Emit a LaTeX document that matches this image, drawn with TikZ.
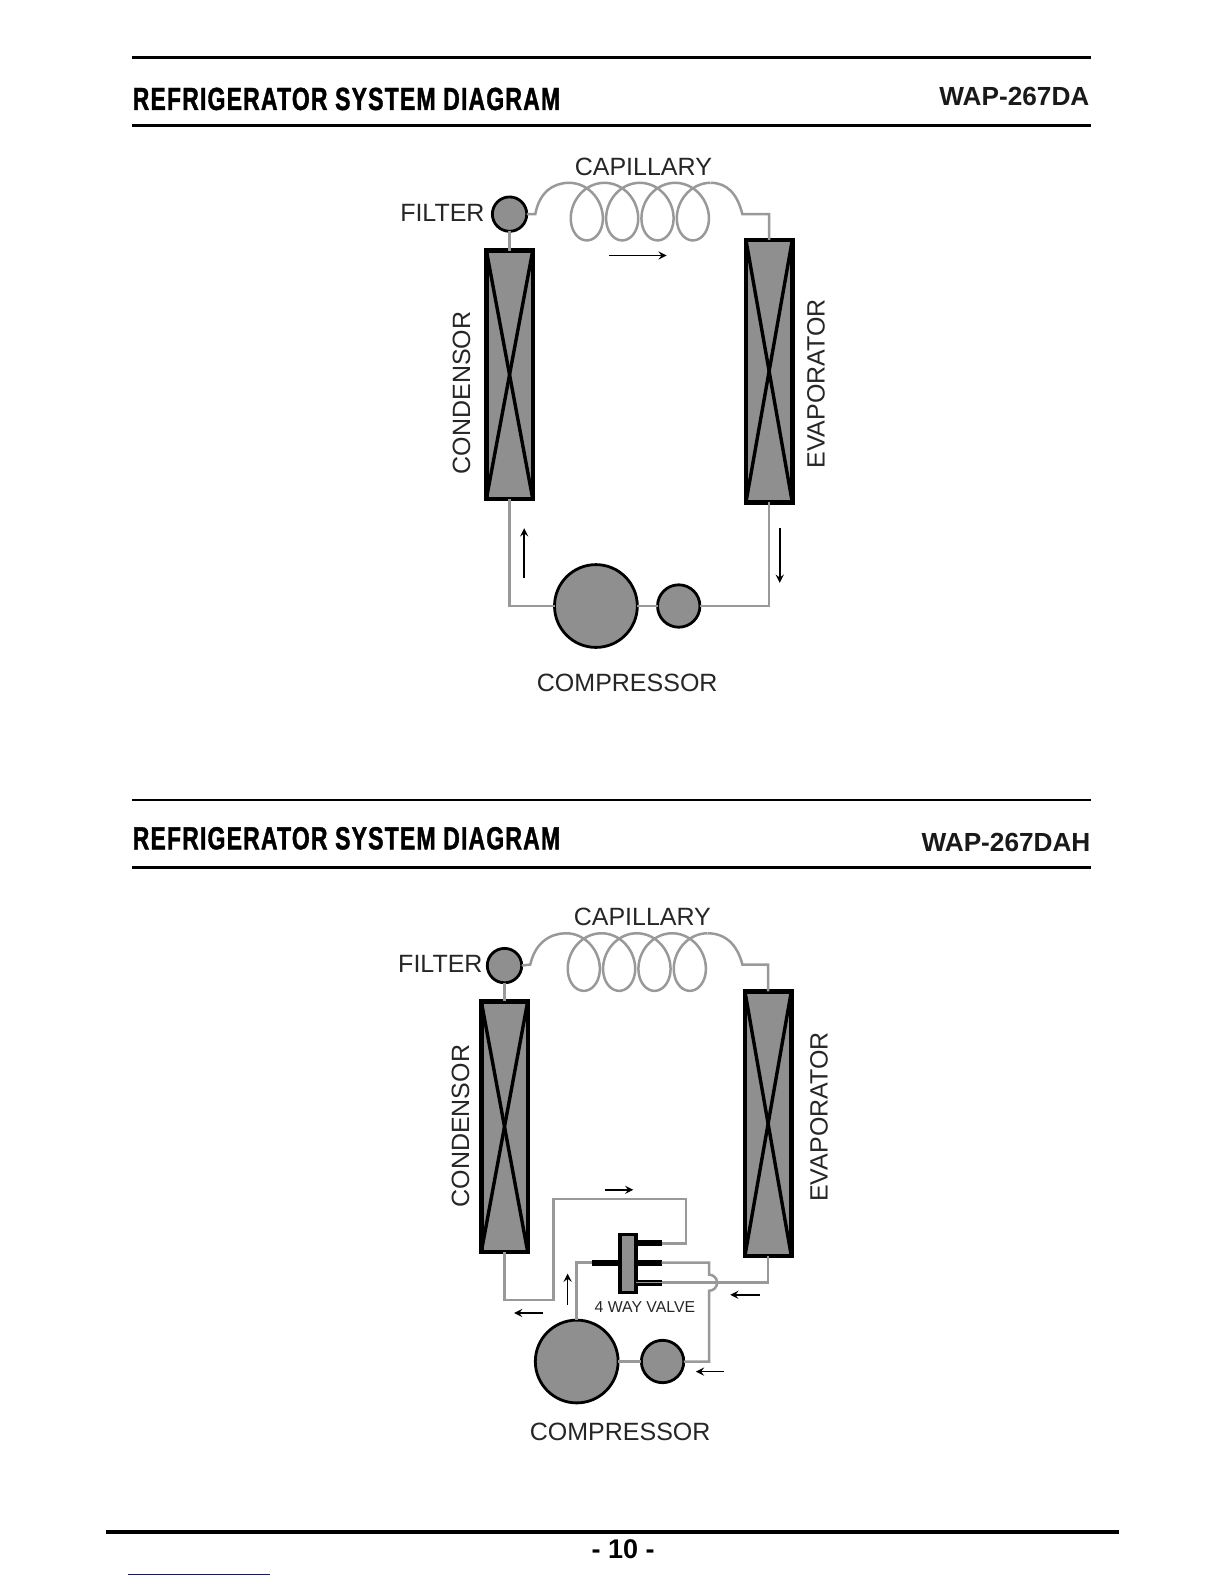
\documentclass[tikz,border=0pt]{standalone}
\usepackage{fontspec}
\setmainfont{Liberation Sans}
\newfontfamily\titlefont[FakeStretch=0.72,LetterSpace=3.6,FakeBold=1.2]{Liberation Sans}
\definecolor{fillgray}{gray}{0.56}
\definecolor{pipegray}{gray}{0.6}
\definecolor{linkblue}{RGB}{20,20,150}
\tikzset{
  pipe/.style={draw=pipegray, line width=1.25pt},
  flow/.style={->, >=stealth, line width=0.8pt},
  coilbox/.style={draw, line width=2.2pt, fill=fillgray, minimum width=23.2pt, inner sep=0pt, outer sep=0pt},
  crossline/.style={line width=1.7pt},
  ball/.style={circle, draw, line width=1.4pt, fill=fillgray, inner sep=0pt, outer sep=0pt},
  parttext/.style={inner sep=0pt, text=black!85, font=\fontsize{12.5}{15}\selectfont},
  headtext/.style={inner sep=0pt, font=\titlefont\bfseries\fontsize{16}{20}\selectfont},
  modeltext/.style={inner sep=0pt, text=black!90, font=\bfseries\fontsize{13.1}{15}\selectfont}
}
\begin{document}
\begin{tikzpicture}[x=0.505pt,y=-0.505pt]
\useasboundingbox (0,0) rectangle (1211.9,1568.3);

% first system
\draw [line width=1.2pt] (131,57)--(1080,57);
\draw [line width=1.5pt] (131,124)--(1080,124);
\node [headtext, anchor=west] (headA) at (131,98) {REFRIGERATOR SYSTEM DIAGRAM};
\node [modeltext, anchor=east] (modelA) at (1079,96) {WAP-267DA};

\node [coilbox, minimum height=124.2pt] (condA) at (504.5,371) {};
\node [coilbox, minimum height=131.3pt] (evapA) at (761.5,367.5) {};
\node [ball, minimum size=17.2pt] (filterA) at (504.5,212) {};
\node [ball, minimum size=41.4pt] (compA) at (590,600) {};
\node [ball, minimum size=21.2pt] (accA) at (672,600) {};
\coordinate (coilinA) at (563.5,181);
\coordinate (coiloutA) at (703.5,181);
\coordinate (bendA) at (735,212);

\draw [crossline] (condA.north west)--(condA.south east);
\draw [crossline] (condA.north east)--(condA.south west);
\draw [crossline] (evapA.north west)--(evapA.south east);
\draw [crossline] (evapA.north east)--(evapA.south west);

\draw [pipe] (filterA.south)--(condA.north);
\draw [pipe] (filterA.east)--(530,212) .. controls (534,190) and (548,181) .. (coilinA);
\draw [pipe, domain=0:25.133, samples=240, smooth] plot ({563.5+5.57*\x+24*sin(\x r)},{209.5-28.5*cos(\x r)});
\draw [pipe] (coiloutA) .. controls (720,181) and (730,192) .. (bendA) -| (evapA.north);
\draw [pipe] (condA.south) |- (compA.west);
\draw [pipe] (compA.east)--(accA.west);
\draw [pipe] (accA.east) -| (evapA.south);

\draw [flow] (603,253)--(660,253);
\draw [flow] (519,572)--(519,523);
\draw [flow] (772,523)--(772,577);

\node [parttext] (capA) at (637,165) {CAPILLARY};
\node [parttext] (filtA) at (438,211) {FILTER};
\node [parttext, rotate=90] (cnameA) at (457,389) {CONDENSOR};
\node [parttext, rotate=90] (enameA) at (808,380) {EVAPORATOR};
\node [parttext] (cpnameA) at (621,676) {COMPRESSOR};

% second system
\draw [line width=0.8pt] (131,792)--(1080,792);
\draw [line width=1.5pt] (131,859)--(1080,859);
\node [headtext, anchor=west] (headB) at (131,830) {REFRIGERATOR SYSTEM DIAGRAM};
\node [modeltext, anchor=east] (modelB) at (1080,834) {WAP-267DAH};

\node [coilbox, minimum height=125.2pt] (condB) at (499.5,1115.5) {};
\node [coilbox, minimum height=132.3pt] (evapB) at (760.5,1112.5) {};
\node [ball, minimum size=17.2pt] (filterB) at (499.5,956) {};
\node [ball, minimum size=41.4pt] (compB) at (571,1348) {};
\node [ball, minimum size=21.2pt] (accB) at (656,1348) {};
\node [draw, line width=1.8pt, fill=fillgray, minimum width=8pt, minimum height=29pt, inner sep=0pt, outer sep=0pt] (valve) at (621.5,1251) {};
\coordinate (porttop) at (655,1231);
\coordinate (portmid) at (655,1250);
\coordinate (portlow) at (655,1270);
\coordinate (portleft) at (586,1250);
\coordinate (coilinB) at (560.5,924);
\coordinate (coiloutB) at (700.5,924);
\coordinate (bendB) at (735,955);
\coordinate (riserB) at (548,1187);
\coordinate (drainB) at (702,1262);

\draw [crossline] (condB.north west)--(condB.south east);
\draw [crossline] (condB.north east)--(condB.south west);
\draw [crossline] (evapB.north west)--(evapB.south east);
\draw [crossline] (evapB.north east)--(evapB.south west);

\draw [pipe] (filterB.south)--(condB.north);
\draw [pipe] (filterB.east)--(525,955) .. controls (530,933) and (545,924) .. (coilinB);
\draw [pipe, domain=0:25.133, samples=240, smooth] plot ({560.5+5.57*\x+24*sin(\x r)},{952.5-28.5*cos(\x r)});
\draw [pipe] (coiloutB) .. controls (718,924) and (730,935) .. (bendB) -| (evapB.north);

\draw [line width=3pt] (valve.east |- porttop)--(porttop);
\draw [line width=3pt] (portleft)--(valve.west |- portleft);
\draw [line width=3pt] (valve.east |- portmid)--(portmid);
\draw [line width=3pt] (valve.east |- portlow)--(portlow);
\draw [pipegray, line width=0.6pt] (valve.east |- portlow)--(portlow);

\draw [pipe] (condB.south) |- (548,1287) -- (riserB) -| (679,1231) -- (porttop);
\draw [pipe] (compB.north) |- (portleft);
\draw [pipe] (portlow) -| (evapB.south);
\draw [pipe] (portmid) -| (drainB) arc (-90:90:8) -- (accB.east -| drainB) -- (accB.east);
\draw [pipe] (compB.east)--(accB.west);

\draw [flow] (599,1178)--(627,1178);
\draw [flow] (562,1292)--(562,1261);
\draw [flow] (538,1300)--(509,1300);
\draw [flow] (752,1282)--(723,1282);
\draw [flow] (717,1358)--(689,1358);

\node [parttext] (capB) at (636,908) {CAPILLARY};
\node [parttext] (filtB) at (436,954) {FILTER};
\node [parttext, rotate=90] (cnameB) at (456,1115) {CONDENSOR};
\node [parttext, rotate=90] (enameB) at (811,1106) {EVAPORATOR};
\node [parttext] (cpnameB) at (614,1418) {COMPRESSOR};
\node [inner sep=0pt, text=black!85, font=\fontsize{7.9}{9}\selectfont] (valvename) at (638.5,1294) {4 WAY VALVE};

% page foot
\draw [line width=2pt] (105,1517)--(1108,1517);
\node [inner sep=0pt, font=\bfseries\fontsize{13.5}{15}\selectfont] (pagenum) at (617,1534) {- 10 -};
\draw [linkblue, line width=0.6pt] (127,1559)--(267,1559);
\end{tikzpicture}
\end{document}
